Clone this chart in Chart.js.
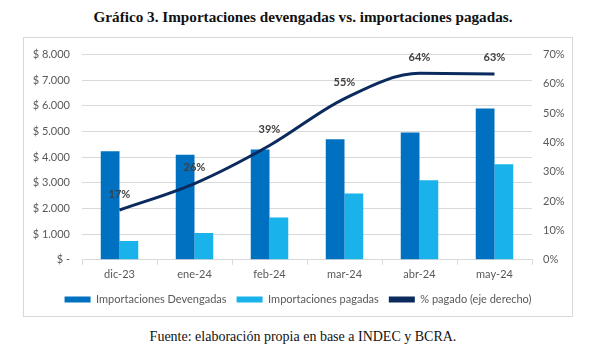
<!DOCTYPE html>
<html>
<head>
<meta charset="utf-8">
<script src="https://cdn.jsdelivr.net/npm/chart.js@4.4.1/dist/chart.umd.min.js"></script>
<style>
  html, body { margin: 0; padding: 0; background: #fff; }
  body { width: 606px; height: 361px; position: relative; overflow: hidden; }
  #title { position: absolute; left: 0; top: 8px; width: 606px; text-align: center;
    font-family: "Liberation Serif", "DejaVu Serif", serif; font-weight: bold; font-size: 15.2px; color: #111; }
  #frame { position: absolute; left: 23px; top: 37px; width: 548px; height: 278px; border: 1px solid #d9d9d9; }
  #c { position: absolute; left: 0; top: -2px; }
  #footer { position: absolute; left: 0; top: 329px; width: 606px; text-align: center;
    font-family: "Liberation Serif", "DejaVu Serif", serif; font-size: 14px; color: #111; }
</style>
</head>
<body>
<div id="title">Gráfico 3. Importaciones devengadas vs. importaciones pagadas.</div>
<div id="frame"><canvas id="c" width="548" height="280"></canvas></div>
<div id="footer">Fuente: elaboración propia en base a INDEC y BCRA.</div>
<script>
const categories = ["dic-23", "ene-24", "feb-24", "mar-24", "abr-24", "may-24"];
const devengadas = [4230, 4100, 4300, 4700, 4960, 5900];
const pagadas = [730, 1040, 1650, 2580, 3100, 3730];
const pctPagado = [0.17, 0.26, 0.39, 0.55, 0.636, 0.634];
const leftTicks = [0, 1000, 2000, 3000, 4000, 5000, 6000, 7000, 8000];
const rightTicks = [0, 0.1, 0.2, 0.3, 0.4, 0.5, 0.6, 0.7];

const tickFont = { family: "Lato, 'Open Sans', sans-serif", size: 11 };
const tickColor = "#595959";

const labelPlugin = {
  id: "pctLabels",
  afterDatasetsDraw(chart) {
    const ctx = chart.ctx;
    const meta = chart.getDatasetMeta(2);
    ctx.save();
    ctx.font = "bold 11px Lato, 'Open Sans', sans-serif";
    ctx.fillStyle = "#404040";
    ctx.textAlign = "center";
    ctx.textBaseline = "middle";
    meta.data.forEach((pt, i) => {
      ctx.fillText(Math.round(pctPagado[i] * 100) + "%", pt.x, pt.y - 16);
    });
    ctx.restore();
  }
};

new Chart(document.getElementById("c"), {
  data: {
    labels: categories,
    datasets: [
      { type: "bar", label: "Importaciones Devengadas", data: devengadas, backgroundColor: "#0070C0",
        yAxisID: "y", categoryPercentage: 0.5, barPercentage: 1.0, order: 2 },
      { type: "bar", label: "Importaciones pagadas", data: pagadas, backgroundColor: "#19B2EA",
        yAxisID: "y", categoryPercentage: 0.5, barPercentage: 1.0, order: 2 },
      { type: "line", label: "% pagado (eje derecho)", data: pctPagado, borderColor: "#0B2A5E",
        backgroundColor: "#0B2A5E", borderWidth: 3, pointRadius: 0, cubicInterpolationMode: "monotone",
        yAxisID: "y1", order: 1 }
    ]
  },
  options: {
    responsive: false,
    animation: false,
    layout: { padding: { top: 0, left: 0, right: 0, bottom: 1 } },
    plugins: {
      tooltip: { enabled: false },
      legend: {
        position: "bottom",
        labels: {
          boxWidth: 26, boxHeight: 6, padding: 10,
          color: tickColor, font: tickFont,
          generateLabels(chart) {
            return chart.data.datasets.map((ds, i) => ({
              text: ds.label, fillStyle: ds.backgroundColor, strokeStyle: ds.backgroundColor,
              lineWidth: 0, hidden: false, datasetIndex: i, fontColor: tickColor
            }));
          }
        }
      }
    },
    scales: {
      x: {
        grid: { offset: true, drawOnChartArea: false, drawTicks: true, tickLength: 5, color: "#d9d9d9" },
        border: { color: "#d9d9d9" },
        ticks: { color: tickColor, font: tickFont, padding: 3 }
      },
      y: {
        position: "left", min: 0, max: 8000,
        afterBuildTicks(s) { s.ticks = leftTicks.map(v => ({ value: v })); },
        afterFit(s) { s.width = 58; },
        grid: { color: "#d9d9d9", drawTicks: false },
        border: { display: false },
        ticks: { color: tickColor, font: tickFont, padding: 12,
          callback: v => v === 0 ? "$ -" : "$ " + v.toLocaleString("de-DE") }
      },
      y1: {
        position: "right", min: 0, max: 0.7,
        afterBuildTicks(s) { s.ticks = rightTicks.map(v => ({ value: v })); },
        afterFit(s) { s.width = 40; },
        grid: { display: false, drawTicks: false },
        border: { display: false },
        ticks: { color: tickColor, font: tickFont, padding: 11,
          callback: v => Math.round(v * 100) + "%" }
      }
    }
  },
  plugins: [labelPlugin]
});
</script>
</body>
</html>
